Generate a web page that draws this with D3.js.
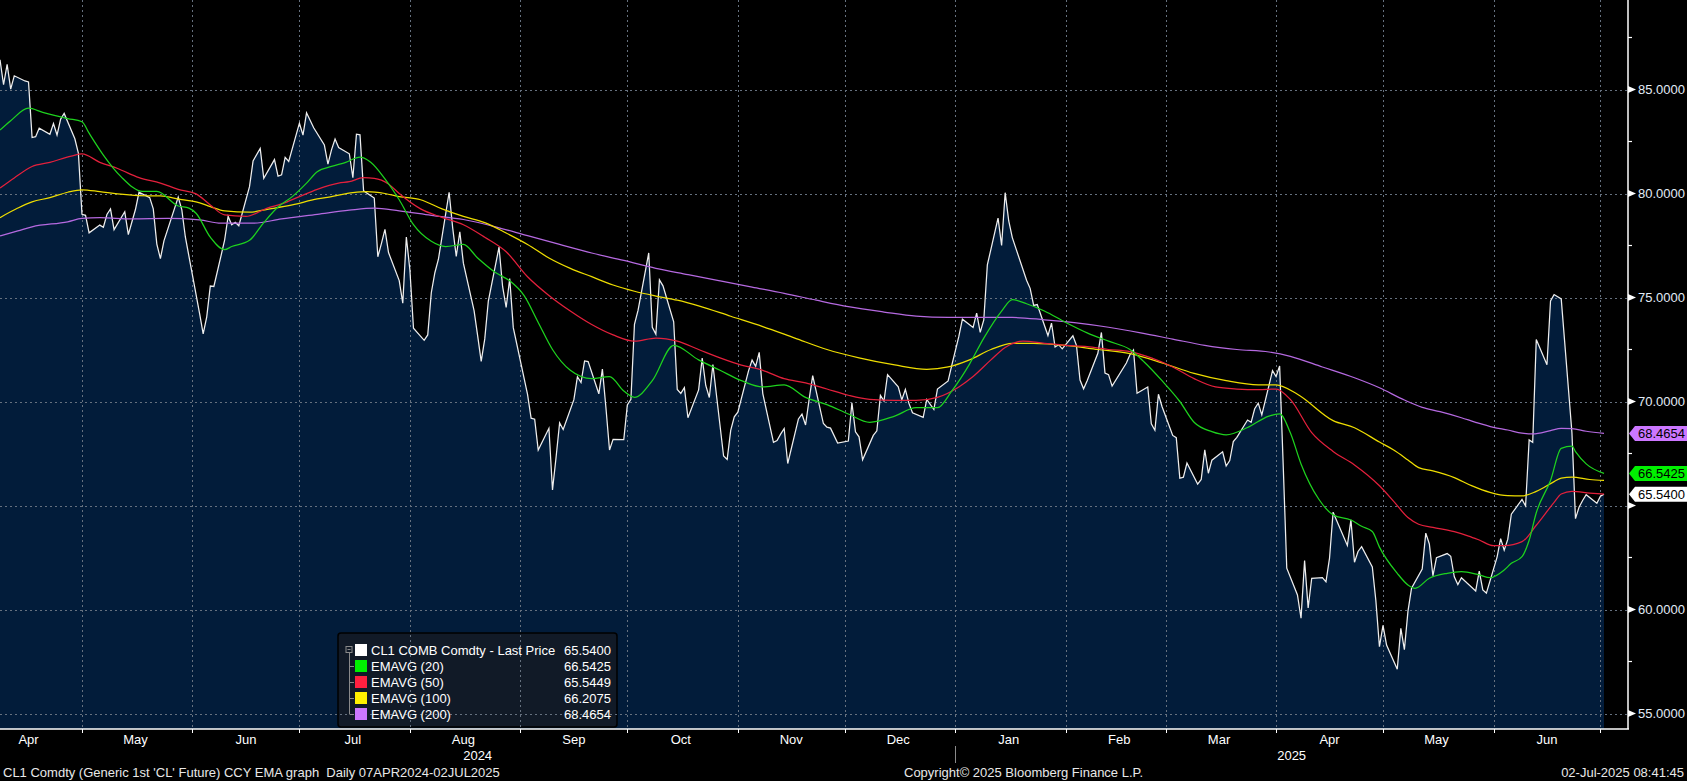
<!DOCTYPE html>
<html>
<head>
<meta charset="utf-8">
<script src="https://cdn.jsdelivr.net/npm/d3@7"></script>
<style>
  html, body { margin: 0; padding: 0; background: #000; }
  svg { display: block; }
  text { font-family: "Liberation Sans", Arial, sans-serif; font-size: 13px; }
</style>
</head>
<body>
<div id="chart"></div>
<script>
// CL1 daily closes
const price = [
  ["2024-04-08",86.43],["2024-04-09",85.23],["2024-04-10",86.21],["2024-04-11",85.02],["2024-04-12",85.66],
  ["2024-04-15",85.41],["2024-04-16",85.36],["2024-04-17",82.69],["2024-04-18",82.73],["2024-04-19",83.14],
  ["2024-04-22",82.85],["2024-04-23",83.36],["2024-04-24",82.81],["2024-04-25",83.57],["2024-04-26",83.85],
  ["2024-04-29",82.63],["2024-04-30",81.93],["2024-05-01",79.00],["2024-05-02",78.95],["2024-05-03",78.11],
  ["2024-05-06",78.48],["2024-05-07",78.38],["2024-05-08",78.99],["2024-05-09",79.26],["2024-05-10",78.26],
  ["2024-05-13",79.12],["2024-05-14",78.02],["2024-05-15",78.63],["2024-05-16",79.23],["2024-05-17",80.06],
  ["2024-05-20",79.80],["2024-05-21",79.26],["2024-05-22",77.57],["2024-05-23",76.87],["2024-05-24",77.72],
  ["2024-05-28",79.83],["2024-05-29",79.23],["2024-05-30",77.91],["2024-05-31",76.99],
  ["2024-06-03",74.22],["2024-06-04",73.25],["2024-06-05",74.07],["2024-06-06",75.55],["2024-06-07",75.53],
  ["2024-06-10",77.74],["2024-06-11",78.90],["2024-06-12",78.50],["2024-06-13",78.62],["2024-06-14",78.45],
  ["2024-06-17",80.33],["2024-06-18",81.57],["2024-06-20",82.17],["2024-06-21",80.73],["2024-06-24",81.63],
  ["2024-06-25",80.83],["2024-06-26",80.90],["2024-06-27",81.74],["2024-06-28",81.54],
  ["2024-07-01",83.38],["2024-07-02",82.81],["2024-07-03",83.88],["2024-07-05",83.16],["2024-07-08",82.33],
  ["2024-07-09",81.41],["2024-07-10",82.10],["2024-07-11",82.62],["2024-07-12",82.21],["2024-07-15",81.91],
  ["2024-07-16",80.76],["2024-07-17",82.85],["2024-07-18",82.82],["2024-07-19",80.13],["2024-07-22",79.78],
  ["2024-07-23",76.96],["2024-07-24",77.59],["2024-07-25",78.28],["2024-07-26",77.16],["2024-07-29",75.81],
  ["2024-07-30",74.73],["2024-07-31",77.91],["2024-08-01",76.31],["2024-08-02",73.52],["2024-08-05",72.94],
  ["2024-08-06",73.20],["2024-08-07",75.23],["2024-08-08",76.19],["2024-08-09",76.84],["2024-08-12",80.06],
  ["2024-08-13",78.35],["2024-08-14",76.98],["2024-08-15",78.16],["2024-08-16",76.65],["2024-08-19",74.37],
  ["2024-08-20",73.17],["2024-08-21",71.93],["2024-08-22",73.01],["2024-08-23",74.83],["2024-08-26",77.42],
  ["2024-08-27",75.53],["2024-08-28",74.52],["2024-08-29",75.91],["2024-08-30",73.55],
  ["2024-09-03",70.34],["2024-09-04",69.20],["2024-09-05",69.15],["2024-09-06",67.67],["2024-09-09",68.71],
  ["2024-09-10",65.75],["2024-09-11",67.31],["2024-09-12",68.97],["2024-09-13",68.65],["2024-09-16",70.09],
  ["2024-09-17",71.19],["2024-09-18",70.91],["2024-09-19",71.95],["2024-09-20",71.92],["2024-09-23",70.37],
  ["2024-09-24",71.56],["2024-09-25",69.69],["2024-09-26",67.67],["2024-09-27",68.18],["2024-09-30",68.17],
  ["2024-10-01",69.83],["2024-10-02",70.10],["2024-10-03",73.71],["2024-10-04",74.38],["2024-10-07",77.14],
  ["2024-10-08",73.57],["2024-10-09",73.24],["2024-10-10",75.85],["2024-10-11",75.56],["2024-10-14",73.83],
  ["2024-10-15",70.58],["2024-10-16",70.39],["2024-10-17",70.67],["2024-10-18",69.22],["2024-10-21",70.56],
  ["2024-10-22",72.09],["2024-10-23",70.77],["2024-10-24",70.19],["2024-10-25",71.78],["2024-10-28",67.38],
  ["2024-10-29",67.21],["2024-10-30",68.61],["2024-10-31",69.26],["2024-11-01",69.49],["2024-11-04",71.47],
  ["2024-11-05",71.99],["2024-11-06",71.69],["2024-11-07",72.36],["2024-11-08",70.38],["2024-11-11",68.04],
  ["2024-11-12",68.12],["2024-11-13",68.43],["2024-11-14",68.70],["2024-11-15",67.02],["2024-11-18",69.16],
  ["2024-11-19",69.39],["2024-11-20",68.87],["2024-11-21",70.10],["2024-11-22",71.24],["2024-11-25",68.94],
  ["2024-11-26",68.77],["2024-11-27",68.72],["2024-11-29",68.00],["2024-12-02",68.10],["2024-12-03",69.94],
  ["2024-12-04",68.54],["2024-12-05",68.30],["2024-12-06",67.20],["2024-12-09",68.37],["2024-12-10",68.59],
  ["2024-12-11",70.29],["2024-12-12",70.02],["2024-12-13",71.29],["2024-12-16",70.71],["2024-12-17",70.08],
  ["2024-12-18",70.58],["2024-12-19",69.91],["2024-12-20",69.46],["2024-12-23",69.24],["2024-12-24",70.10],
  ["2024-12-26",69.62],["2024-12-27",70.60],["2024-12-30",70.99],["2024-12-31",71.72],
  ["2025-01-02",73.13],["2025-01-03",73.96],["2025-01-06",73.56],["2025-01-07",74.25],["2025-01-08",73.32],
  ["2025-01-09",73.92],["2025-01-10",76.57],["2025-01-13",78.82],["2025-01-14",77.50],["2025-01-15",80.04],
  ["2025-01-16",78.68],["2025-01-17",77.88],["2025-01-21",75.83],["2025-01-22",75.44],["2025-01-23",74.62],
  ["2025-01-24",74.66],["2025-01-27",73.17],["2025-01-28",73.77],["2025-01-29",72.62],["2025-01-30",72.73],
  ["2025-01-31",72.53],["2025-02-03",73.16],["2025-02-04",72.70],["2025-02-05",71.03],["2025-02-06",70.61],
  ["2025-02-07",71.00],["2025-02-10",72.32],["2025-02-11",73.32],["2025-02-12",71.37],["2025-02-13",71.29],
  ["2025-02-14",70.74],["2025-02-18",71.85],["2025-02-19",72.25],["2025-02-20",72.48],["2025-02-21",70.40],
  ["2025-02-24",70.70],["2025-02-25",68.93],["2025-02-26",68.62],["2025-02-27",70.35],["2025-02-28",69.76],
  ["2025-03-03",68.37],["2025-03-04",68.26],["2025-03-05",66.31],["2025-03-06",66.36],["2025-03-07",67.04],
  ["2025-03-10",66.03],["2025-03-11",66.25],["2025-03-12",67.68],["2025-03-13",66.55],["2025-03-14",67.18],
  ["2025-03-17",67.58],["2025-03-18",66.90],["2025-03-19",67.16],["2025-03-20",68.07],["2025-03-21",68.28],
  ["2025-03-24",69.11],["2025-03-25",69.00],["2025-03-26",69.65],["2025-03-27",69.92],["2025-03-28",69.36],
  ["2025-03-31",71.48],["2025-04-01",71.20],["2025-04-02",71.71],["2025-04-03",66.95],["2025-04-04",61.99],
  ["2025-04-07",60.70],["2025-04-08",59.58],["2025-04-09",62.35],["2025-04-10",60.07],["2025-04-11",61.50],
  ["2025-04-14",61.53],["2025-04-15",61.33],["2025-04-16",62.47],["2025-04-17",64.68],["2025-04-21",63.08],
  ["2025-04-22",64.31],["2025-04-23",62.27],["2025-04-24",62.79],["2025-04-25",63.02],["2025-04-28",62.05],
  ["2025-04-29",60.42],["2025-04-30",58.21],["2025-05-01",59.24],["2025-05-02",58.29],["2025-05-05",57.13],
  ["2025-05-06",59.09],["2025-05-07",58.07],["2025-05-08",59.91],["2025-05-09",61.02],["2025-05-12",61.95],
  ["2025-05-13",63.67],["2025-05-14",63.15],["2025-05-15",61.62],["2025-05-16",62.49],["2025-05-19",62.69],
  ["2025-05-20",62.56],["2025-05-21",61.57],["2025-05-22",61.20],["2025-05-23",61.53],["2025-05-27",60.89],
  ["2025-05-28",61.84],["2025-05-29",60.94],["2025-05-30",60.79],["2025-06-02",62.52],["2025-06-03",63.41],
  ["2025-06-04",62.85],["2025-06-05",63.37],["2025-06-06",64.58],["2025-06-09",65.29],["2025-06-10",64.98],
  ["2025-06-11",68.15],["2025-06-12",68.04],["2025-06-13",72.98],["2025-06-16",71.77],["2025-06-17",74.84],
  ["2025-06-18",75.14],["2025-06-20",74.93],["2025-06-23",68.51],["2025-06-24",64.37],["2025-06-25",64.92],
  ["2025-06-26",65.24],["2025-06-27",65.52],["2025-06-30",65.11],["2025-07-01",65.45],["2025-07-02",65.54]
];

// EMA lines
const ema20 = [
  ["2024-04-08",83.05],["2024-04-11",83.5],["2024-04-16",84.1],["2024-04-20",83.9],["2024-04-27",83.6],
  ["2024-05-01",83.45],["2024-05-03",82.9],["2024-05-07",81.85],["2024-05-12",80.8],["2024-05-18",80.1],
  ["2024-05-22",80.1],["2024-05-28",79.4],["2024-05-31",79.3],["2024-06-02",79.05],["2024-06-06",77.9],
  ["2024-06-10",77.3],["2024-06-12",77.45],["2024-06-17",77.75],["2024-06-21",78.6],["2024-06-25",79.35],
  ["2024-06-29",79.85],["2024-07-03",80.5],["2024-07-06",81.05],["2024-07-10",81.3],["2024-07-14",81.5],
  ["2024-07-18",81.75],["2024-07-21",81.5],["2024-07-25",80.7],["2024-07-29",79.7],["2024-08-02",78.5],
  ["2024-08-07",77.7],["2024-08-11",77.45],["2024-08-16",77.55],["2024-08-20",76.9],["2024-08-25",76.2],
  ["2024-08-29",75.8],["2024-09-02",75.1],["2024-09-06",73.8],["2024-09-10",72.5],["2024-09-15",71.5],
  ["2024-09-21",71.1],["2024-09-26",71.2],["2024-09-30",70.5],["2024-10-03",70.2],["2024-10-08",71.0],
  ["2024-10-14",72.7],["2024-10-21",72.0],["2024-10-27",71.5],["2024-11-02",71.0],["2024-11-08",70.7],
  ["2024-11-14",70.8],["2024-11-20",70.2],["2024-11-26",69.85],["2024-12-02",69.4],["2024-12-08",69.0],
  ["2024-12-15",69.3],["2024-12-21",69.7],["2024-12-27",69.7],["2024-12-31",70.5],["2025-01-05",71.8],
  ["2025-01-09",73.05],["2025-01-14",74.35],["2025-01-17",74.9],["2025-01-21",74.7],["2025-01-26",74.35],
  ["2025-02-01",73.8],["2025-02-07",73.3],["2025-02-13",72.9],["2025-02-19",72.5],["2025-02-23",71.9],
  ["2025-02-28",71.0],["2025-03-05",70.0],["2025-03-09",69.0],["2025-03-14",68.55],["2025-03-18",68.4],
  ["2025-03-24",68.75],["2025-03-30",69.3],["2025-04-02",69.4],["2025-04-05",68.5],["2025-04-08",67.0],
  ["2025-04-13",65.3],["2025-04-17",64.55],["2025-04-22",64.3],["2025-04-25",64.0],["2025-04-28",63.75],
  ["2025-04-30",63.0],["2025-05-05",61.74],["2025-05-08",61.18],["2025-05-10",61.02],["2025-05-14",61.5],
  ["2025-05-19",61.74],["2025-05-23",61.82],["2025-05-28",61.66],["2025-05-31",61.53],["2025-06-04",61.9],
  ["2025-06-06",62.22],["2025-06-09",62.54],["2025-06-11",63.33],["2025-06-13",64.65],["2025-06-17",66.2],
  ["2025-06-20",67.75],["2025-06-23",67.85],["2025-06-24",67.59],["2025-06-27",67.0],["2025-07-02",66.5425]
];
const ema50 = [
  ["2024-04-08",80.26],["2024-04-12",80.75],["2024-04-17",81.3],["2024-04-22",81.5],["2024-04-28",81.8],
  ["2024-05-01",81.9],["2024-05-06",81.5],["2024-05-11",81.2],["2024-05-17",80.76],["2024-05-23",80.5],
  ["2024-05-28",80.2],["2024-06-02",79.98],["2024-06-06",79.45],["2024-06-10",78.97],["2024-06-16",78.9],
  ["2024-06-22",79.3],["2024-06-26",79.5],["2024-07-01",79.85],["2024-07-06",80.2],["2024-07-12",80.5],
  ["2024-07-15",80.57],["2024-07-19",80.76],["2024-07-22",80.73],["2024-07-26",80.46],["2024-07-29",80.0],
  ["2024-08-04",79.26],["2024-08-10",78.85],["2024-08-16",78.5],["2024-08-22",77.9],["2024-08-28",77.2],
  ["2024-09-03",76.0],["2024-09-09",75.1],["2024-09-15",74.35],["2024-09-21",73.7],["2024-09-27",73.2],
  ["2024-10-03",72.9],["2024-10-09",73.05],["2024-10-15",72.9],["2024-10-21",72.5],["2024-10-27",72.1],
  ["2024-11-02",71.75],["2024-11-08",71.5],["2024-11-14",71.1],["2024-11-20",70.9],["2024-11-26",70.6],
  ["2024-12-02",70.3],["2024-12-08",70.1],["2024-12-15",70.05],["2024-12-21",70.05],["2024-12-27",70.2],
  ["2025-01-02",70.7],["2025-01-06",71.2],["2025-01-11",72.0],["2025-01-15",72.6],["2025-01-20",72.9],
  ["2025-01-26",72.8],["2025-02-01",72.7],["2025-02-07",72.64],["2025-02-13",72.5],["2025-02-19",72.4],
  ["2025-02-25",72.1],["2025-03-03",71.66],["2025-03-09",71.1],["2025-03-15",70.7],["2025-03-21",70.6],
  ["2025-03-27",70.57],["2025-04-01",70.6],["2025-04-05",70.1],["2025-04-11",68.5],["2025-04-17",67.6],
  ["2025-04-23",66.95],["2025-04-30",65.95],["2025-05-04",65.2],["2025-05-08",64.42],["2025-05-11",64.1],
  ["2025-05-15",63.95],["2025-05-21",63.74],["2025-05-25",63.53],["2025-05-28",63.34],["2025-06-01",63.07],
  ["2025-06-04",63.07],["2025-06-09",63.26],["2025-06-13",64.05],["2025-06-18",65.15],["2025-06-20",65.55],
  ["2025-06-23",65.68],["2025-06-28",65.6],["2025-07-02",65.5449]
];
const ema100 = [
  ["2024-04-08",78.84],["2024-04-13",79.3],["2024-04-17",79.6],["2024-04-22",79.8],["2024-04-27",80.06],
  ["2024-05-01",80.18],["2024-05-06",80.09],["2024-05-11",79.98],["2024-05-17",79.9],["2024-05-23",79.88],
  ["2024-05-29",79.7],["2024-06-02",79.6],["2024-06-06",79.37],["2024-06-10",79.16],["2024-06-17",79.1],
  ["2024-06-22",79.24],["2024-06-29",79.45],["2024-07-06",79.74],["2024-07-10",79.85],["2024-07-16",80.04],
  ["2024-07-20",80.09],["2024-07-25",80.0],["2024-07-29",79.85],["2024-08-04",79.7],["2024-08-10",79.26],
  ["2024-08-16",78.9],["2024-08-22",78.6],["2024-08-28",78.1],["2024-09-03",77.55],["2024-09-09",76.9],
  ["2024-09-15",76.4],["2024-09-21",76.0],["2024-09-27",75.6],["2024-10-03",75.3],["2024-10-09",75.07],
  ["2024-10-15",74.87],["2024-10-21",74.6],["2024-10-30",74.1],["2024-11-08",73.6],["2024-11-17",73.05],
  ["2024-11-26",72.5],["2024-12-05",72.1],["2024-12-15",71.76],["2024-12-24",71.55],["2024-12-30",71.66],
  ["2025-01-05",72.0],["2025-01-11",72.5],["2025-01-17",72.8],["2025-01-23",72.8],["2025-02-01",72.7],
  ["2025-02-10",72.5],["2025-02-19",72.3],["2025-02-28",71.86],["2025-03-09",71.35],["2025-03-18",71.0],
  ["2025-03-27",70.8],["2025-04-01",70.8],["2025-04-07",70.35],["2025-04-17",69.08],["2025-04-23",68.74],
  ["2025-04-30",68.05],["2025-05-04",67.67],["2025-05-08",67.19],["2025-05-11",66.82],["2025-05-15",66.66],
  ["2025-05-21",66.34],["2025-05-26",65.94],["2025-05-31",65.63],["2025-06-05",65.47],["2025-06-09",65.46],
  ["2025-06-13",65.68],["2025-06-18",66.15],["2025-06-20",66.32],["2025-06-23",66.36],["2025-06-28",66.25],
  ["2025-07-02",66.2075]
];
const ema200 = [
  ["2024-04-08",77.96],["2024-04-13",78.2],["2024-04-17",78.4],["2024-04-27",78.64],["2024-05-01",78.8],
  ["2024-05-06",78.84],["2024-05-15",78.78],["2024-05-25",78.8],["2024-06-03",78.73],["2024-06-09",78.57],
  ["2024-06-18",78.57],["2024-06-26",78.78],["2024-07-06",79.0],["2024-07-15",79.2],["2024-07-22",79.3],
  ["2024-07-29",79.17],["2024-08-07",78.95],["2024-08-16",78.75],["2024-08-25",78.4],["2024-09-03",77.97],
  ["2024-09-12",77.55],["2024-09-21",77.14],["2024-09-30",76.78],["2024-10-09",76.4],["2024-10-18",76.1],
  ["2024-10-27",75.8],["2024-11-05",75.5],["2024-11-14",75.2],["2024-11-23",74.87],["2024-12-02",74.56],
  ["2024-12-12",74.3],["2024-12-21",74.1],["2024-12-30",74.04],["2025-01-08",74.04],["2025-01-17",74.04],
  ["2025-01-26",73.93],["2025-02-04",73.78],["2025-02-13",73.57],["2025-02-22",73.3],["2025-03-03",73.0],
  ["2025-03-12",72.7],["2025-03-21",72.5],["2025-03-30",72.38],["2025-04-05",72.17],["2025-04-14",71.66],
  ["2025-04-23",71.14],["2025-04-30",70.66],["2025-05-07",70.07],["2025-05-12",69.72],["2025-05-17",69.51],
  ["2025-05-23",69.22],["2025-05-27",69.0],["2025-06-01",68.76],["2025-06-05",68.63],["2025-06-09",68.48],
  ["2025-06-12",68.44],["2025-06-17",68.6],["2025-06-20",68.71],["2025-06-23",68.7],["2025-06-27",68.57],
  ["2025-07-02",68.4654]
];

const seriesNames = ["CL1 COMB Comdty - Last Price", "EMAVG (20)", "EMAVG (50)", "EMAVG (100)", "EMAVG (200)"];
const lastValues = [65.54, 66.5425, 65.5449, 66.2075, 68.4654];
const yTicks = [55, 60, 65, 70, 75, 80, 85];
const footerLeft = "CL1 Comdty (Generic 1st 'CL' Future) CCY EMA graph  Daily 07APR2024-02JUL2025";
const footerMid = "Copyright\u00a9 2025 Bloomberg Finance L.P.";
const footerRight = "02-Jul-2025 08:41:45";

const swatchColors = ["#ffffff", "#00f000", "#ff2040", "#fff000", "#cc77ff"];
const lineColors = ["#eeeeee", "#1ed21e", "#e4203c", "#eedd00", "#b569e0"];

const width = 1687, height = 781;
const axisX = 1628, plotBottom = 729;
const parse = d3.utcParse("%Y-%m-%d");

const svg = d3.select("#chart").append("svg")
  .attr("width", width)
  .attr("height", height);

svg.append("rect").attr("width", width).attr("height", height).attr("fill", "#000");

const x = d3.scaleUtc()
  .domain([parse("2024-04-08"), parse("2025-07-02")])
  .range([0, 1604]);
const y = d3.scaleLinear()
  .domain([55, 85])
  .range([713.5, 89.5]);

// area under price
svg.append("path")
  .datum(price)
  .attr("fill", "#021c3a")
  .attr("d", d3.area()
    .x(d => x(parse(d[0])))
    .y0(plotBottom)
    .y1(d => y(d[1])));

// legend box (grid shows through it)
const lg = {x: 338, y: 633, w: 279, h: 94};
svg.append("rect")
  .attr("x", lg.x).attr("y", lg.y)
  .attr("width", lg.w).attr("height", lg.h)
  .attr("rx", 3)
  .attr("fill", "#111a27")
  .attr("stroke", "#000")
  .attr("stroke-width", 1.5);

// grid
const monthStarts = d3.utcMonth.range(parse("2024-05-01"), parse("2025-07-02"));
const grid = svg.append("g")
  .attr("stroke", "#66717f")
  .attr("stroke-width", 1)
  .attr("stroke-dasharray", "2,3");
grid.selectAll(".gx").data(monthStarts).enter().append("line")
  .attr("x1", d => Math.round(x(d)) + 0.5).attr("x2", d => Math.round(x(d)) + 0.5)
  .attr("y1", 0).attr("y2", plotBottom);
grid.selectAll(".gy").data(yTicks).enter().append("line")
  .attr("x1", 0).attr("x2", axisX)
  .attr("y1", d => Math.round(y(d)) + 0.5).attr("y2", d => Math.round(y(d)) + 0.5);

// lines
const line = d3.line().x(d => x(parse(d[0]))).y(d => y(d[1]));
const smooth = d3.line().x(d => x(parse(d[0]))).y(d => y(d[1])).curve(d3.curveMonotoneX);

svg.append("path").datum(price)
  .attr("fill", "none").attr("stroke", lineColors[0]).attr("stroke-width", 1.25)
  .attr("d", line);

[[ema200, 4], [ema100, 3], [ema50, 2], [ema20, 1]].forEach(([s, i]) => {
  svg.append("path").datum(s)
    .attr("fill", "none").attr("stroke", lineColors[i]).attr("stroke-width", 1.25)
    .attr("d", smooth);
});

// plot frame
svg.append("line").attr("x1", 0).attr("x2", axisX + 1).attr("y1", plotBottom).attr("y2", plotBottom)
  .attr("stroke", "#fff").attr("stroke-width", 1.5);
svg.append("line").attr("x1", axisX).attr("x2", axisX).attr("y1", 0).attr("y2", plotBottom)
  .attr("stroke", "#fff").attr("stroke-width", 1.5);

// month ticks under the frame
svg.selectAll(".mt").data(monthStarts).enter().append("line")
  .attr("x1", d => Math.round(x(d)) + 0.5).attr("x2", d => Math.round(x(d)) + 0.5)
  .attr("y1", plotBottom).attr("y2", plotBottom + 4)
  .attr("stroke", "#fff");

// y axis labels
const fmt4 = d3.format(".4f");
const tagIdx = [4, 1, 0]; // the 50 and 100 tags sit hidden under these in the original
const minor = d3.range(57.5, 88, 5);
svg.selectAll(".mn").data(minor).enter().append("line")
  .attr("x1", axisX).attr("x2", axisX + 4)
  .attr("y1", d => y(d)).attr("y2", d => y(d))
  .attr("stroke", "#fff").attr("stroke-width", 1.2);
svg.selectAll(".tk").data(yTicks).enter().append("path")
  .attr("d", d => `M${axisX},${y(d) - 3.5}L${axisX + 8},${y(d)}L${axisX},${y(d) + 3.5}Z`)
  .attr("fill", "#fff");
// tick labels that collide with a value tag are covered in the original
const freeTicks = yTicks.filter(t => tagIdx.every(i => Math.abs(y(t) - y(lastValues[i])) > 16));
svg.selectAll(".yl").data(freeTicks).enter().append("text")
  .attr("x", 1638).attr("y", d => y(d))
  .attr("dy", "0.36em")
  .attr("fill", "#e2ecf7")
  .text(d => fmt4(d));

// last value tags
tagIdx.forEach(i => {
  const yc = y(lastValues[i]);
  svg.append("path")
    .attr("d", `M${axisX + 1},${yc}L${axisX + 7},${yc - 7.5}L${width},${yc - 7.5}L${width},${yc + 7.5}L${axisX + 7},${yc + 7.5}Z`)
    .attr("fill", swatchColors[i]);
  svg.append("text")
    .attr("x", 1638).attr("y", yc).attr("dy", "0.36em")
    .attr("fill", "#000")
    .text(fmt4(lastValues[i]));
});

// month labels
const months = d3.utcMonth.range(parse("2024-04-01"), parse("2025-07-01"));
svg.selectAll(".ml").data(months).enter().append("text")
  .attr("x", d => Math.max(25, x(d3.utcDay.offset(d, 15))))
  .attr("y", 739).attr("dy", "0.36em")
  .attr("text-anchor", "middle")
  .attr("fill", "#fff")
  .text(d => d3.utcFormat("%b")(d));

const yearBreak = x(parse("2025-01-01"));
svg.append("line")
  .attr("x1", Math.round(yearBreak) + 0.5).attr("x2", Math.round(yearBreak) + 0.5)
  .attr("y1", 746).attr("y2", 763)
  .attr("stroke", "#8a8a8a");
svg.append("text").attr("x", yearBreak / 2).attr("y", 755).attr("dy", "0.36em")
  .attr("text-anchor", "middle").attr("fill", "#fff").text("2024");
svg.append("text").attr("x", (yearBreak + axisX) / 2).attr("y", 755).attr("dy", "0.36em")
  .attr("text-anchor", "middle").attr("fill", "#fff").text("2025");

// legend content
const lgRows = seriesNames.map((n, i) => 650 + i * 16);
svg.append("rect").attr("x", 346).attr("y", 646.5).attr("width", 6).attr("height", 6)
  .attr("fill", "none").attr("stroke", "#8a8a8a");
svg.append("line").attr("x1", 347.5).attr("x2", 350.5).attr("y1", 649.5).attr("y2", 649.5)
  .attr("stroke", "#8a8a8a");
svg.append("line").attr("x1", 349.5).attr("x2", 349.5).attr("y1", 653).attr("y2", lgRows[4])
  .attr("stroke", "#8a8a8a");
svg.selectAll(".tr").data(lgRows.slice(1)).enter().append("line")
  .attr("x1", 349.5).attr("x2", 354).attr("y1", d => d + 0.5).attr("y2", d => d + 0.5)
  .attr("stroke", "#8a8a8a");
seriesNames.forEach((n, i) => {
  svg.append("rect")
    .attr("x", 355).attr("y", lgRows[i] - 6)
    .attr("width", 12).attr("height", 12)
    .attr("fill", swatchColors[i]);
  svg.append("text")
    .attr("x", 371).attr("y", lgRows[i]).attr("dy", "0.36em")
    .attr("fill", "#fff").text(n);
  svg.append("text")
    .attr("x", 611).attr("y", lgRows[i]).attr("dy", "0.36em")
    .attr("text-anchor", "end")
    .attr("fill", "#fff").text(fmt4(lastValues[i]));
});

// footer
svg.append("text").attr("x", 3).attr("y", 772).attr("dy", "0.36em")
  .style("white-space", "pre")
  .attr("fill", "#e8e8e8").text(footerLeft);
svg.append("text").attr("x", 904).attr("y", 772).attr("dy", "0.36em")
  .attr("fill", "#e8e8e8").text(footerMid);
svg.append("text").attr("x", 1684).attr("y", 772).attr("dy", "0.36em")
  .attr("text-anchor", "end")
  .attr("fill", "#e8e8e8").text(footerRight);
</script>
</body>
</html>
